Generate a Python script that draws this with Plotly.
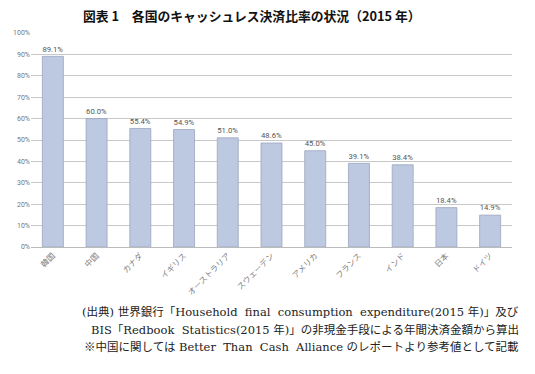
import plotly.graph_objects as go

countries = ["韓国", "中国", "カナダ", "イギリス", "オーストラリア", "スウェーデン",
             "アメリカ", "フランス", "インド", "日本", "ドイツ"]
values = [89.1, 60.0, 55.4, 54.9, 51.0, 48.6, 45.0, 39.1, 38.4, 18.4, 14.9]
y_ticks = [0, 10, 20, 30, 40, 50, 60, 70, 80, 90, 100]
y_tick_labels = [f"{v}%" for v in y_ticks]

title = "図表 1　各国のキャッシュレス決済比率の状況（2015 年）"
notes = [
    "(出典) 世界銀行「Household  final  consumption  expenditure(2015 年)」及び",
    "BIS「Redbook  Statistics(2015 年)」の非現金手段による年間決済金額から算出",
    "※中国に関しては Better  Than  Cash  Alliance のレポートより参考値として記載",
]

fig = go.Figure()
fig.add_trace(go.Bar(
    x=countries, y=values,
    marker=dict(color="#BDC9E1", line=dict(color="#9AA6BE", width=0.8)),
    width=0.48,
    text=[f"{v:.1f}%" for v in values],
    textposition="outside",
    textfont=dict(family="Roboto, sans-serif", size=9, color="#555555"),
    cliponaxis=False,
    hoverinfo="skip",
))

fig.update_layout(
    width=535, height=374,
    margin=dict(l=31, r=23, t=33, b=127, autoexpand=False),
    paper_bgcolor="white", plot_bgcolor="white",
    showlegend=False,
    xaxis=dict(
        tickangle=-45, automargin=False,
        tickfont=dict(family="Noto Sans CJK JP", size=8, color="#808080"),
        showgrid=False, showline=True, linecolor="#BBBBBB", linewidth=1,
        ticks="",
    ),
    yaxis=dict(
        range=[0, 100], tickvals=y_ticks, ticktext=y_tick_labels, automargin=False,
        tickfont=dict(family="Roboto, sans-serif", size=7, color="#777777"),
        showgrid=True, gridcolor="#C8C8C8", gridwidth=1,
        zeroline=False, showline=False, ticks="",
    ),
    annotations=[
        dict(text=f"<b>{title}</b>", xref="paper", yref="paper",
             x=0.46, xanchor="center", y=1, yanchor="middle", yshift=18,
             showarrow=False,
             font=dict(family="Noto Sans CJK JP", size=12.8, color="#111111")),
    ] + [
        dict(text=t, xref="paper", yref="paper", x=1, xanchor="right", xshift=9,
             y=0, yanchor="middle", yshift=-65 - 17.5 * i, showarrow=False,
             font=dict(family="DejaVu Serif, Noto Sans CJK JP", size=11.5, color="#222222"))
        for i, t in enumerate(notes)
    ],
)

fig.write_html("out.html",
               config={"displayModeBar": False, "staticPlot": True},
               post_script="document.body.style.margin='0';document.body.style.overflow='hidden';")
